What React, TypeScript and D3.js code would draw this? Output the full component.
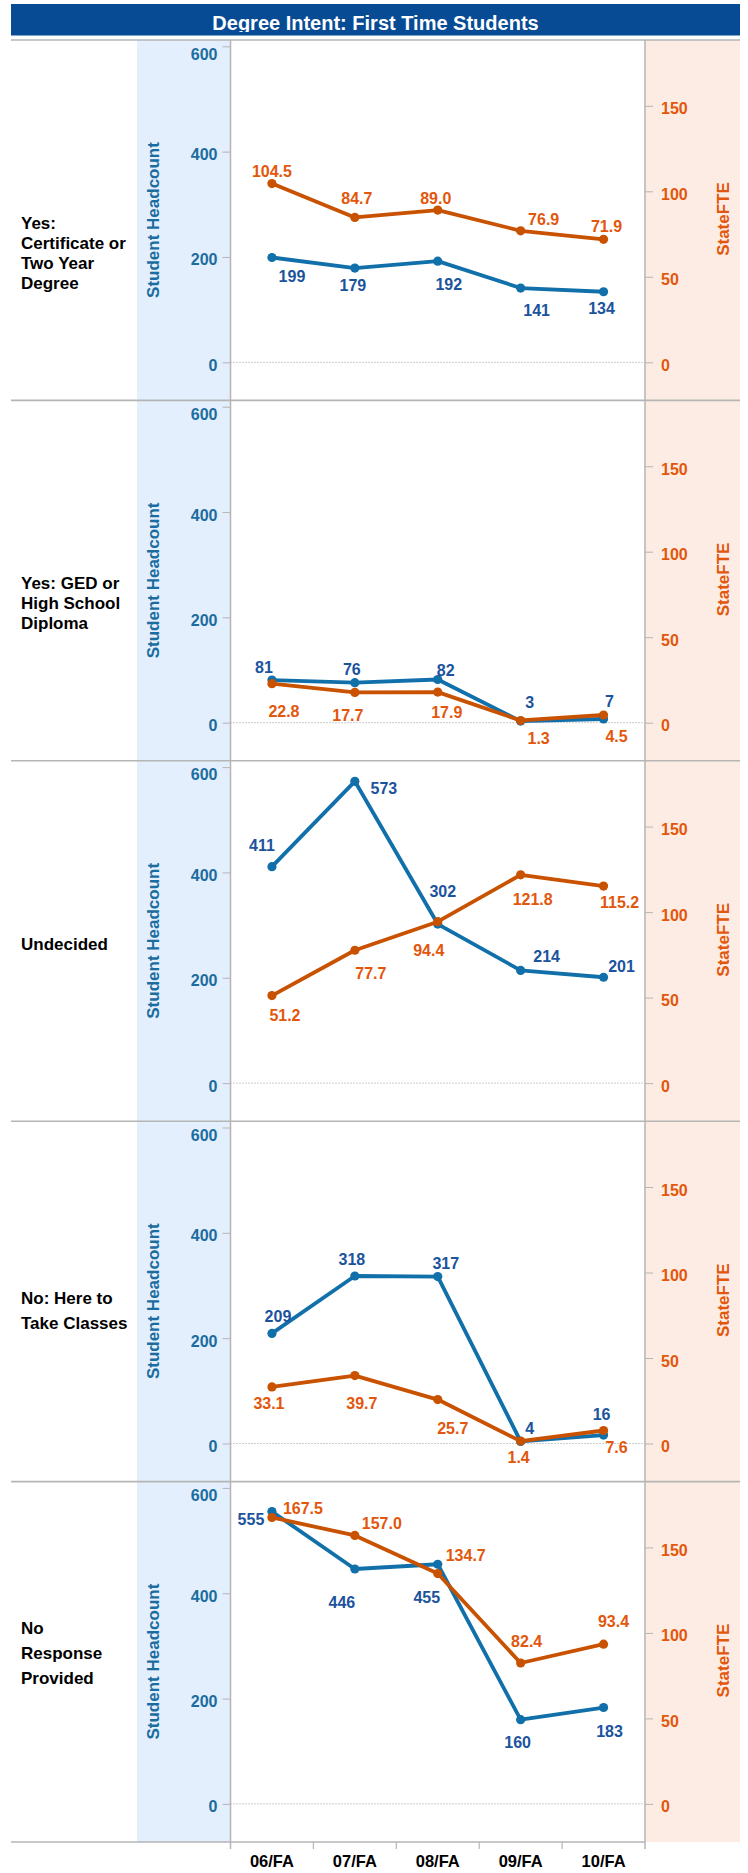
import React, { useRef, useEffect } from 'react';
import * as d3 from 'd3';

const title = 'Degree Intent: First Time Students';
const terms = ['06/FA', '07/FA', '08/FA', '09/FA', '10/FA'];
const intents = [
  ['Yes:', 'Certificate or', 'Two Year', 'Degree'],
  ['Yes: GED or', 'High School', 'Diploma'],
  ['Undecided'],
  ['No: Here to', 'Take Classes'],
  ['No', 'Response', 'Provided'],
];
const headcount = [
  [199, 179, 192, 141, 134],
  [81, 76, 82, 3, 7],
  [411, 573, 302, 214, 201],
  [209, 318, 317, 4, 16],
  [555, 446, 455, 160, 183],
];
const stateFTE = [
  [104.5, 84.7, 89.0, 76.9, 71.9],
  [22.8, 17.7, 17.9, 1.3, 4.5],
  [51.2, 77.7, 94.4, 121.8, 115.2],
  [33.1, 39.7, 25.7, 1.4, 7.6],
  [167.5, 157.0, 134.7, 82.4, 93.4],
];
const headcountTicks = [0, 200, 400, 600];
const fteTicks = [0, 50, 100, 150];

// where each mark label sits relative to its point [dx, baseline dy], as placed in the original
const headcountNudge = [
  [[20, 25], [-2, 23], [11, 29], [16, 28], [-2, 22]],
  [[-8, -7], [-3, -8], [8, -4], [9, -13], [6, -12]],
  [[-10, -16], [29, 13], [5, -27], [26, -8], [18, -5]],
  [[6, -11], [-3, -11], [8, -8], [9, -7], [-2, -15]],
  [[-21, 13], [-13, 39], [-11, 39], [-3, 28], [6, 29]],
];
const fteNudge = [
  [[0, -7], [2, -13], [-2, -6], [23, -6], [3, -7]],
  [[12, 33], [-7, 29], [9, 26], [18, 24], [13, 27]],
  [[13, 25], [16, 29], [-9, 34], [12, 30], [16, 22]],
  [[-3, 22], [7, 33], [15, 34], [-2, 22], [13, 22]],
  [[31, -3], [27, -6], [28, -13], [6, -16], [10, -17]],
];
// row header text: first baseline from the top of its panel, and line step
const headerBaseline = [189, 189, 189.5, 183, 152];
const headerStep = [20, 20, 20, 25, 25];

const W = 748, H = 1873;
const left = 11, right = 740;
const plotL = 230.5, plotR = 645;
const bandL = 137;
const top0 = 40, panelH = 360.4;
const zeroOff = 322.3;

const font = 'Arial, "Liberation Sans", Helvetica, sans-serif';
const blue = '#1170aa', orange = '#c85200';
const blueText = '#1b6c9f', blueLabel = '#1b539d', orangeText = '#e2570c';
const grid = '#b5b5b5';

export default function App() {
  const ref = useRef<SVGSVGElement>(null);

  useEffect(() => {
    const svg = d3.select(ref.current);
    svg.selectAll('*').remove();
    const bottom = top0 + panelH * intents.length;
    const x = d3.scaleBand().domain(terms).range([plotL, plotR]);
    const cx = (j: number) => (x(terms[j]) as number) + x.bandwidth() / 2;

    svg.append('rect').attr('width', W).attr('height', H).attr('fill', '#fff');

    // axis bands
    svg.append('rect').attr('x', bandL).attr('y', top0).attr('width', plotL - bandL)
      .attr('height', bottom - top0).attr('fill', '#e3effc');
    svg.append('rect').attr('x', plotR).attr('y', top0).attr('width', right - plotR)
      .attr('height', bottom - top0).attr('fill', '#fdece3');

    // title bar
    svg.append('defs').append('clipPath').attr('id', 'titleClip')
      .append('rect').attr('x', left).attr('y', 4).attr('width', right - left).attr('height', 28);
    svg.append('rect').attr('x', left).attr('y', 4).attr('width', right - left).attr('height', 31.5)
      .attr('fill', '#074b95');
    svg.append('text').attr('x', (left + right) / 2).attr('y', 30)
      .attr('text-anchor', 'middle').attr('clip-path', 'url(#titleClip)')
      .style('font', `bold 20px ${font}`).attr('fill', '#fff').text(title);

    intents.forEach((rows, i) => {
      const top = top0 + i * panelH;
      const yL = d3.scaleLinear().domain([0, 600]).range([top + zeroOff, top + 6.3]);
      const yR = d3.scaleLinear().domain([0, 150]).range([top + zeroOff, top + 65.8]);
      const g = svg.append('g');

      g.append('line').attr('x1', left).attr('x2', right).attr('y1', top).attr('y2', top)
        .attr('stroke', grid).attr('stroke-width', 1.6);

      g.append('line').attr('x1', plotL).attr('x2', plotR)
        .attr('y1', yL(0)).attr('y2', yL(0))
        .attr('stroke', '#9a9a9a').attr('stroke-width', 1).attr('stroke-dasharray', '1,2');

      // row header
      g.append('text').attr('x', 21).attr('y', top + headerBaseline[i])
        .style('font', `bold 17px ${font}`).attr('fill', '#000')
        .selectAll('tspan').data(rows).enter().append('tspan')
        .attr('x', 21).attr('dy', (d, k) => (k === 0 ? 0 : headerStep[i])).text(d => d);

      // left axis
      const axL = g.append('g').attr('transform', `translate(${plotL},0)`)
        .call(d3.axisLeft(yL).tickValues(headcountTicks).tickSize(8).tickPadding(5));
      axL.select('.domain').remove();
      axL.selectAll('.tick line').attr('stroke', grid);
      axL.selectAll('.tick text').attr('fill', blueText).attr('dy', '0.5em')
        .style('font', `bold 16px ${font}`);
      axL.selectAll('.tick').filter((d: any) => d === 600).select('text').attr('dy', '0.8em');

      // right axis
      const axR = g.append('g').attr('transform', `translate(${plotR},0)`)
        .call(d3.axisRight(yR).tickValues(fteTicks).tickSize(8).tickPadding(8));
      axR.select('.domain').remove();
      axR.selectAll('.tick line').attr('stroke', grid);
      axR.selectAll('.tick text').attr('fill', orangeText).attr('dy', '0.5em')
        .style('font', `bold 16px ${font}`);

      // axis titles
      g.append('text').attr('transform', `translate(159,${top + 180}) rotate(-90)`)
        .attr('text-anchor', 'middle').style('font', `bold 17px ${font}`)
        .attr('fill', blueText).text('Student Headcount');
      g.append('text').attr('transform', `translate(729,${top + 179}) rotate(-90)`)
        .attr('text-anchor', 'middle').style('font', `bold 17px ${font}`)
        .attr('fill', orangeText).text('StateFTE');

      const lineL = d3.line<number>().x((d, j) => cx(j)).y(d => yL(d));
      const lineR = d3.line<number>().x((d, j) => cx(j)).y(d => yR(d));

      g.append('path').attr('d', lineL(headcount[i])).attr('fill', 'none')
        .attr('stroke', blue).attr('stroke-width', 3.8).attr('stroke-linejoin', 'round');
      g.selectAll('.hc').data(headcount[i]).enter().append('circle')
        .attr('cx', (d, j) => cx(j)).attr('cy', d => yL(d)).attr('r', 4.6).attr('fill', blue);

      g.append('path').attr('d', lineR(stateFTE[i])).attr('fill', 'none')
        .attr('stroke', orange).attr('stroke-width', 3.8).attr('stroke-linejoin', 'round');
      g.selectAll('.fte').data(stateFTE[i]).enter().append('circle')
        .attr('cx', (d, j) => cx(j)).attr('cy', d => yR(d)).attr('r', 4.6).attr('fill', orange);

      g.selectAll('.hcLabel').data(headcount[i]).enter().append('text')
        .attr('x', (d, j) => cx(j) + headcountNudge[i][j][0])
        .attr('y', (d, j) => yL(d) + headcountNudge[i][j][1])
        .attr('text-anchor', 'middle').style('font', `bold 16px ${font}`)
        .attr('fill', blueLabel).text(d => d3.format('d')(d));

      g.selectAll('.fteLabel').data(stateFTE[i]).enter().append('text')
        .attr('x', (d, j) => cx(j) + fteNudge[i][j][0])
        .attr('y', (d, j) => yR(d) + fteNudge[i][j][1])
        .attr('text-anchor', 'middle').style('font', `bold 16px ${font}`)
        .attr('fill', orangeText).text(d => d3.format('.1f')(d));
    });

    // vertical axis rules
    [plotL, plotR].forEach(px => {
      svg.append('line').attr('x1', px).attr('x2', px).attr('y1', top0).attr('y2', bottom + 7)
        .attr('stroke', grid).attr('stroke-width', 1.5);
    });

    // bottom axis
    svg.append('line').attr('x1', left).attr('x2', plotR).attr('y1', bottom).attr('y2', bottom)
      .attr('stroke', grid).attr('stroke-width', 1.6);
    svg.selectAll('.divTick').data(terms.slice(1)).enter().append('line')
      .attr('x1', d => x(d) as number).attr('x2', d => x(d) as number)
      .attr('y1', bottom).attr('y2', bottom + 7).attr('stroke', grid).attr('stroke-width', 1.2);
    svg.selectAll('.term').data(terms).enter().append('text')
      .attr('x', (d, j) => cx(j)).attr('y', bottom + 25)
      .attr('text-anchor', 'middle').style('font', `bold 16.5px ${font}`)
      .attr('fill', '#000').text(d => d);
  }, []);

  return (
    <svg ref={ref} width={W} height={H} viewBox={`0 0 ${W} ${H}`}
      style={{ position: 'absolute', left: 0, top: 0, display: 'block' }} />
  );
}
